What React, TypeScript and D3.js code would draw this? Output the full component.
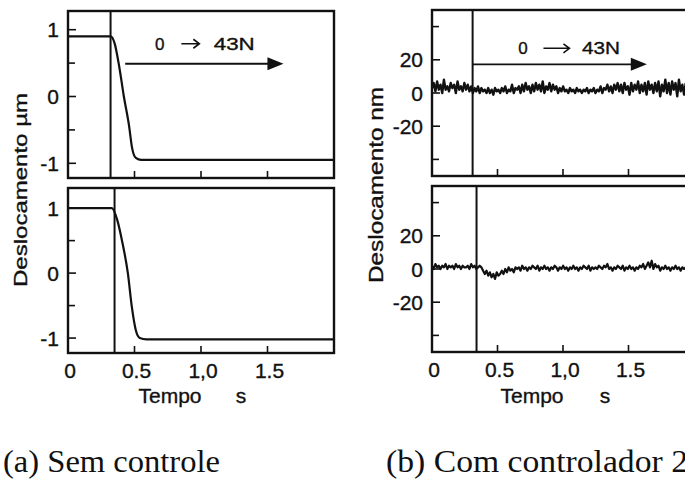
import React from "react";
import * as d3 from "d3";

const W = 685;
const H = 482;

// Time axis (s)
const timeTicks = [0, 0.5, 1.0, 1.5];
const timeTickLabels = ["0", "0.5", "1,0", "1.5"];

// (a) Without control — displacement in µm, breakpoints of the response
const openTopT = [0, 0.32, 0.35, 0.385, 0.42, 0.46, 0.48, 0.51, 0.55, 2.0];
const openTopV = [0.9, 0.9, 0.8, 0.45, 0.0, -0.45, -0.75, -0.92, -0.95, -0.95];
const openBotT = [0, 0.33, 0.37, 0.41, 0.45, 0.48, 0.51, 0.54, 0.59, 2.0];
const openBotV = [1.0, 1.0, 0.82, 0.46, 0.0, -0.52, -0.88, -1.0, -1.02, -1.02];

// (b) With controller 2 — displacement in nm, sampled every 13 ms
const SAMPLE_DT = 0.013;
const ctrlTopV = [
  3, 6, 1, 7, 2, 5, 0, 8, 2, 4,
  1, 6, 3, 5, 0, 7, 2, 4, 1, 6,
  2, 5, 1, 4, 0, 3, 1, 4, 0, 3,
  1, 2, 0, 3, 0, 2, -1, 3, 1, 2,
  0, 3, 1, 4, 0, 2, 1, 5, 0, 3,
  2, 4, 0, 5, 1, 6, 2, 4, 0, 5,
  1, 6, 2, 5, 1, 7, 0, 4, 2, 6,
  1, 5, 2, 4, 0, 3, 1, 4, 1, 2,
  0, 3, 1, 2, 0, 3, 1, 2, 0, 2,
  1, 3, 0, 2, 1, 3, 0, 2, 1, 4,
  0, 3, 2, 5, 1, 4, 0, 5, 2, 6,
  1, 5, 0, 6, 2, 4, -1, 6, 1, 5,
  2, 7, 0, 5, 1, 6, -1, 7, 2, 5,
  0, 6, 1, 7, -2, 5, 1, 8, 0, 6,
  -1, 7, 2, 6, -2, 8, 1, 5, -1, 6,
];
const ctrlBotV = [
  2, 0, 3, 1, 2, 0, 2, 1, 3, 0,
  2, 1, 2, 0, 3, 1, 2, 0, 2, 1,
  1, 2, 0, 3, 1, 2, 0, 1, 2, 1,
  -1, -3, -1, -4, -2, -5, -3, -6, -2, -4,
  -3, -1, -3, 0, -2, 1, -1, 0, -2, 1,
  0, 1, -1, 2, 0, 1, -1, 1, 0, 2,
  1, 0, 2, -1, 1, 0, 2, 0, 1, -1,
  1, 0, 2, 1, -1, 1, 0, 2, 0, 1,
  -1, 1, 0, 2, 0, 1, -1, 1, 0, 2,
  1, 0, 2, -1, 1, 0, 1, 0, 2, 1,
  0, 2, 1, 3, 0, 1, -1, 1, 0, 2,
  1, 0, 2, -1, 1, 0, 2, 0, 1, -1,
  1, 0, 2, 1, 3, 0, 2, 4, 1, 5,
  0, 3, 1, 2, -1, 1, 0, 2, 0, 1,
  -1, 1, 0, 2, 0, 1, -1, 1, 0, 1,
];

// Y ticks
const umMajor = [-1, 0, 1];
const umMinor = [-0.5, 0.5];
const umLabels = ["-1", "0", "1"];
const nmMajor = [-20, 0, 20];
const nmMinor = [-40, 40];
const nmLabels = ["-20", "0", "20"];

// Instants where the 0 → 43N load step is applied (s)
const stepA = [0.32, 0.35];
const stepB = [0.31, 0.34];

const INK = "#111";
const SANS = "'Liberation Sans', Arial, sans-serif";
const SERIF = "'Liberation Serif', 'Times New Roman', serif";

type Box = { x0: number; x1: number; y0: number; y1: number };

const sansText = { fontFamily: SANS, fill: INK, stroke: INK, strokeWidth: 0.35 } as const;

function Frame({
  box, x, y, major, minor, labels, stepT, children, clipId,
}: {
  box: Box;
  x: d3.ScaleLinear<number, number>;
  y: d3.ScaleLinear<number, number>;
  major: number[];
  minor: number[];
  labels: string[];
  stepT: number;
  children?: React.ReactNode;
  clipId: string;
}) {
  return (
    <g>
      <clipPath id={clipId}>
        <rect x={box.x0} y={box.y0} width={box.x1 - box.x0} height={box.y1 - box.y0} />
      </clipPath>
      {/* y ticks pointing inward */}
      {major.map((v) => (
        <line key={"M" + v} x1={box.x0} x2={box.x0 + 8} y1={y(v)} y2={y(v)} stroke={INK} strokeWidth={1.6} />
      ))}
      {minor.map((v) => (
        <line key={"m" + v} x1={box.x0} x2={box.x0 + 7} y1={y(v)} y2={y(v)} stroke={INK} strokeWidth={1.6} />
      ))}
      {major.map((v, i) => (
        <text key={"L" + v} x={box.x0 - 9} y={y(v)} dy="0.36em" textAnchor="end" fontSize={21} {...sansText}>
          {labels[i]}
        </text>
      ))}
      {/* x ticks pointing inward */}
      {timeTicks.slice(1).map((t) => (
        <line key={"x" + t} x1={x(t)} x2={x(t)} y1={box.y1} y2={box.y1 - 7} stroke={INK} strokeWidth={1.6} />
      ))}
      {/* load step marker */}
      <line x1={x(stepT)} x2={x(stepT)} y1={box.y0} y2={box.y1} stroke={INK} strokeWidth={2} />
      <g clipPath={`url(#${clipId})`}>{children}</g>
      <rect x={box.x0} y={box.y0} width={box.x1 - box.x0} height={box.y1 - box.y0}
        fill="none" stroke={INK} strokeWidth={2.4} />
    </g>
  );
}

function LoadNote({
  x, y, t0, t1, arrowV, textV, tZero, tArrow, tLoad, glyphLen, loadLen,
}: {
  x: d3.ScaleLinear<number, number>;
  y: d3.ScaleLinear<number, number>;
  t0: number; t1: number; arrowV: number; textV: number;
  tZero: number; tArrow: number; tLoad: number; glyphLen: number; loadLen: number;
}) {
  const ay = y(arrowV);
  const xe = x(t1);
  const ty = y(textV);
  const gx0 = x(tArrow) - glyphLen / 2;
  const gx1 = x(tArrow) + glyphLen / 2;
  const gy = ty - 6;
  return (
    <g>
      <line x1={x(t0)} x2={xe - 14} y1={ay} y2={ay} stroke={INK} strokeWidth={1.8} />
      <path d={`M${xe - 16},${ay - 6.5} L${xe},${ay} L${xe - 16},${ay + 6.5} Z`} fill={INK} />
      <text x={x(tZero)} y={ty} textAnchor="middle" fontSize={17} {...sansText}>0</text>
      {/* "→" between the two load values */}
      <path d={`M${gx0},${gy} L${gx1},${gy} M${gx1 - 6},${gy - 4.5} L${gx1},${gy} L${gx1 - 6},${gy + 4.5}`}
        fill="none" stroke={INK} strokeWidth={1.6} />
      <text x={x(tLoad) - loadLen / 2} y={ty} textLength={loadLen} lengthAdjust="spacingAndGlyphs"
        fontSize={17} {...sansText}>43N</text>
    </g>
  );
}

export default function App() {
  // (a) scales
  const xa = d3.scaleLinear().domain([0, 2]).range([68, 334]);
  const boxA1: Box = { x0: 68, x1: 334, y0: 11, y1: 178 };
  const boxA2: Box = { x0: 68, x1: 334, y0: 188, y1: 353 };
  const ya1 = d3.scaleLinear().domain([-1.22, 1.28]).range([boxA1.y1, boxA1.y0]);
  const ya2 = d3.scaleLinear().domain([-1.23, 1.31]).range([boxA2.y1, boxA2.y0]);

  // (b) scales
  const xb = d3.scaleLinear().domain([0, 2]).range([432, 694]);
  const boxB1: Box = { x0: 432, x1: 700, y0: 10, y1: 176 };
  const boxB2: Box = { x0: 432, x1: 700, y0: 186, y1: 352 };
  const yb1 = d3.scaleLinear().domain([-50, 50]).range([boxB1.y1, boxB1.y0]);
  const yb2 = d3.scaleLinear().domain([-50, 50]).range([boxB2.y1, boxB2.y0]);

  const smooth = (xs: d3.ScaleLinear<number, number>, ys: d3.ScaleLinear<number, number>) =>
    d3.line<[number, number]>().x((d) => xs(d[0])).y((d) => ys(d[1])).curve(d3.curveMonotoneX);
  const raw = (xs: d3.ScaleLinear<number, number>, ys: d3.ScaleLinear<number, number>) =>
    d3.line<number>().x((_, i) => xs(i * SAMPLE_DT)).y((d) => ys(d));

  const pA1 = smooth(xa, ya1)(d3.zip(openTopT, openTopV) as [number, number][]) || "";
  const pA2 = smooth(xa, ya2)(d3.zip(openBotT, openBotV) as [number, number][]) || "";
  const pB1 = raw(xb, yb1)(ctrlTopV) || "";
  const pB2 = raw(xb, yb2)(ctrlBotV) || "";

  return (
    <svg width={W} height={H} viewBox={`0 0 ${W} ${H}`}
      style={{ position: "absolute", left: 0, top: 0, background: "#fff" }}>
      <rect width={W} height={H} fill="#fff" />

      {/* (a) Sem controle */}
      <Frame box={boxA1} x={xa} y={ya1} major={umMajor} minor={umMinor} labels={umLabels} stepT={stepA[0]} clipId="ca1">
        <path d={pA1} fill="none" stroke={INK} strokeWidth={2.2} />
      </Frame>
      <LoadNote x={xa} y={ya1} t0={0.43} t1={1.62} arrowV={0.49} textV={0.7}
        tZero={0.69} tArrow={0.92} tLoad={1.25} glyphLen={18} loadLen={41} />
      <Frame box={boxA2} x={xa} y={ya2} major={umMajor} minor={umMinor} labels={umLabels} stepT={stepA[1]} clipId="ca2">
        <path d={pA2} fill="none" stroke={INK} strokeWidth={2.2} />
      </Frame>
      {timeTicks.map((t, i) => (
        <text key={"ta" + t} x={xa(t) + 2} y={378} textAnchor="middle" fontSize={21} {...sansText}>
          {timeTickLabels[i]}
        </text>
      ))}
      <text x={170} y={403} textAnchor="middle" fontSize={21} {...sansText}>Tempo</text>
      <text x={241} y={403} textAnchor="middle" fontSize={21} {...sansText}>s</text>
      <text transform="translate(27,287) rotate(-90)" textLength={194} lengthAdjust="spacingAndGlyphs"
        fontSize={19} {...sansText}>Deslocamento  µm</text>

      {/* (b) Com controlador 2 */}
      <Frame box={boxB1} x={xb} y={yb1} major={nmMajor} minor={nmMinor} labels={nmLabels} stepT={stepB[0]} clipId="cb1">
        <path d={pB1} fill="none" stroke={INK} strokeWidth={2.4} strokeLinejoin="round" />
      </Frame>
      <LoadNote x={xb} y={yb1} t0={stepB[0]} t1={1.64} arrowV={17.3} textV={23.3}
        tZero={0.695} tArrow={0.95} tLoad={1.29} glyphLen={26} loadLen={38} />
      <Frame box={boxB2} x={xb} y={yb2} major={nmMajor} minor={nmMinor} labels={nmLabels} stepT={stepB[1]} clipId="cb2">
        <path d={pB2} fill="none" stroke={INK} strokeWidth={2.2} strokeLinejoin="round" />
      </Frame>
      {timeTicks.map((t, i) => (
        <text key={"tb" + t} x={xb(t) + 2} y={377} textAnchor="middle" fontSize={21} {...sansText}>
          {timeTickLabels[i]}
        </text>
      ))}
      <text x={532} y={403} textAnchor="middle" fontSize={21} {...sansText}>Tempo</text>
      <text x={605} y={403} textAnchor="middle" fontSize={21} {...sansText}>s</text>
      <text transform="translate(383,283) rotate(-90)" textLength={196} lengthAdjust="spacingAndGlyphs"
        fontSize={20} {...sansText}>Deslocamento  nm</text>

      {/* Captions */}
      <text x={3} y={472} textLength={217} lengthAdjust="spacingAndGlyphs"
        fontFamily={SERIF} fontSize={31} fill={INK}>(a) Sem controle</text>
      <text x={386} y={472} textLength={302} lengthAdjust="spacingAndGlyphs"
        fontFamily={SERIF} fontSize={31} fill={INK}>(b) Com controlador 2</text>
    </svg>
  );
}
